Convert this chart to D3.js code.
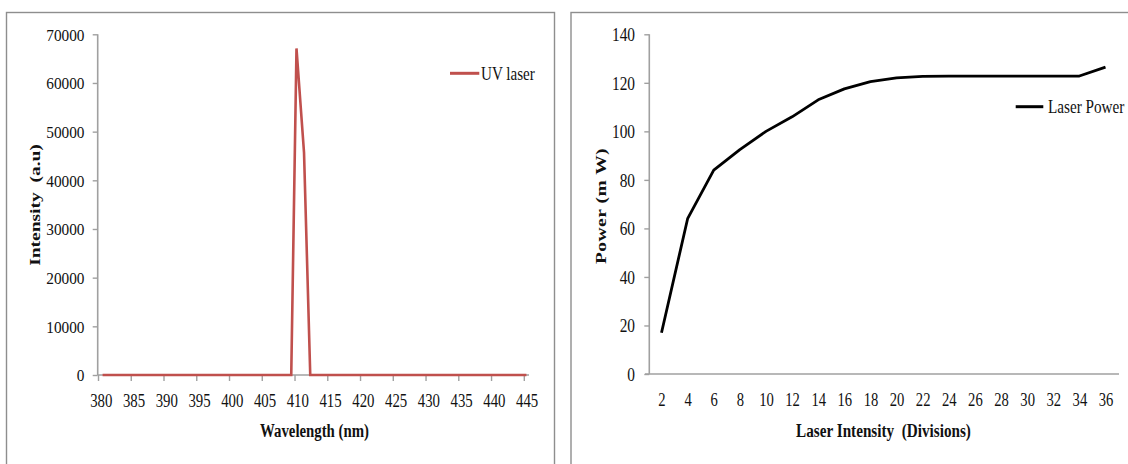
<!DOCTYPE html>
<html>
<head>
<meta charset="utf-8">
<script src="https://cdn.jsdelivr.net/npm/d3@7"></script>
<style>
  html, body { margin: 0; padding: 0; background: #fff; }
  svg { display: block; }
  text { font-family: "Liberation Serif", "Times New Roman", serif; fill: #111; }
</style>
</head>
<body>
<svg id="chart" width="1128" height="464"></svg>
<script>
// ---------- Data ----------
// Left chart: UV laser spectrum
const uvWavelength = [380.7, 409.5, 410.3, 411.45, 412.4, 445.4];
const uvIntensity  = [0, 0, 67100, 45700, 0, 0];
const wavelengthTicks = [380, 385, 390, 395, 400, 405, 410, 415, 420, 425, 430, 435, 440, 445];
const intensityTicks  = [0, 10000, 20000, 30000, 40000, 50000, 60000, 70000];

// Right chart: laser power vs laser intensity
const divisions = [2, 4, 6, 8, 10, 12, 14, 16, 18, 20, 22, 24, 26, 28, 30, 32, 34, 36];
const powerMW   = [17, 64, 84, 92.5, 100, 106, 113, 117.5, 120.5, 122, 122.7, 122.8, 122.8, 122.8, 122.8, 122.8, 122.8, 126.5];
const divisionTicks = divisions;
const powerTicks = [0, 20, 40, 60, 80, 100, 120, 140];

// ---------- Helpers ----------
const svg = d3.select("#chart");
const axisColor = "#a0a0a0";
const borderColor = "#8e8e8e";

function styleAxis(g) {
  g.select(".domain").attr("stroke", axisColor).attr("stroke-width", 1.6);
  g.selectAll(".tick line").attr("stroke", axisColor).attr("stroke-width", 1.4);
}

// ---------- Panel borders ----------
svg.append("rect").attr("x", 6.5).attr("y", 12.5).attr("width", 548).attr("height", 470)
  .attr("fill", "none").attr("stroke", borderColor).attr("stroke-width", 1.4);
svg.append("rect").attr("x", 571).attr("y", 12.5).attr("width", 570).attr("height", 470)
  .attr("fill", "none").attr("stroke", borderColor).attr("stroke-width", 1.4);

// ================= LEFT CHART =================
const xL = d3.scaleLinear().domain([380, 445]).range([98, 523.8]);
const yL = d3.scaleLinear().domain([0, 70000]).range([375, 34.3]);

// y axis
const gyL = svg.append("g").attr("transform", "translate(97.7,0)")
  .call(d3.axisLeft(yL).tickValues(intensityTicks).tickSize(5).tickFormat(d3.format("d")));
gyL.select(".domain").attr("d", `M0,${yL(70000)}V${yL(0)}`);
styleAxis(gyL);
gyL.selectAll(".tick text")
  .attr("x", -13.2 / 0.9).attr("dy", "0.34em")
  .attr("transform", "scale(0.9,1)")
  .style("font-size", "17px").style("font-family", "Liberation Serif");

// x axis
const gxL = svg.append("g").attr("transform", `translate(0,${yL(0)})`)
  .call(d3.axisBottom(xL).tickValues(wavelengthTicks).tickSizeInner(6).tickSizeOuter(0).tickFormat(d3.format("d")));
gxL.select(".domain").attr("d", `M97.7,0H529`);
styleAxis(gxL);
gxL.selectAll(".tick text")
  .attr("y", 0).attr("dy", 0)
  .attr("transform", "translate(2.8,32) scale(0.78,1)")
  .style("font-size", "19px").style("font-family", "Liberation Serif");

// line
const lineL = d3.line().x((d, i) => xL(uvWavelength[i])).y(d => yL(d));
svg.append("path").datum(uvIntensity)
  .attr("d", lineL).attr("fill", "none")
  .attr("stroke", "#c0504d").attr("stroke-width", 2.6).attr("stroke-linejoin", "miter");

// axis titles
svg.append("text").text("Intensity  (a.u)")
  .attr("transform", "translate(40,205) scale(0.76,1) rotate(-90)")
  .attr("text-anchor", "middle").style("font-weight", "bold").style("font-size", "19.5px")
  .style("white-space", "pre");
svg.append("text").text("Wavelength (nm)")
  .attr("transform", "translate(314.5,437) scale(0.78,1)")
  .attr("text-anchor", "middle").style("font-weight", "bold").style("font-size", "19px");

// legend
svg.append("line").attr("x1", 450).attr("x2", 479.3).attr("y1", 73.3).attr("y2", 73.3)
  .attr("stroke", "#c0504d").attr("stroke-width", 3);
svg.append("text").text("UV laser")
  .attr("transform", "translate(481,79.5) scale(0.84,1)")
  .style("font-size", "18px");

// ================= RIGHT CHART =================
const xR = d3.scaleLinear().domain([2, 36]).range([661.5, 1105.5]);
const yR = d3.scaleLinear().domain([0, 140]).range([374, 34.3]);

const gyR = svg.append("g").attr("transform", "translate(649.3,0)")
  .call(d3.axisLeft(yR).tickValues(powerTicks).tickSize(5).tickFormat(d3.format("d")));
gyR.select(".domain").attr("d", `M0,${yR(140)}V${yR(0)}`);
styleAxis(gyR);
gyR.selectAll(".tick text")
  .attr("x", -14.3 / 0.81).attr("dy", "0.34em")
  .attr("transform", "scale(0.81,1)")
  .style("font-size", "19px");

const gxR = svg.append("g").attr("transform", `translate(0,${yR(0)})`)
  .call(d3.axisBottom(xR).tickValues(divisionTicks).tickSize(0).tickFormat(d3.format("d")));
gxR.select(".domain").attr("d", `M645,0H1119`);
styleAxis(gxR);
gxR.selectAll(".tick text")
  .attr("y", 0).attr("dy", 0)
  .attr("transform", "translate(0,32) scale(0.77,1)")
  .style("font-size", "19px");

const lineR = d3.line().x((d, i) => xR(divisions[i])).y(d => yR(d));
svg.append("path").datum(powerMW)
  .attr("d", lineR).attr("fill", "none")
  .attr("stroke", "#000").attr("stroke-width", 2.8).attr("stroke-linejoin", "round");

svg.append("text").text("Power (m W)")
  .attr("transform", "translate(606,206) scale(0.76,1) rotate(-90)")
  .attr("text-anchor", "middle").style("font-weight", "bold").style("font-size", "19.5px")
  .style("letter-spacing", "0.5px");
svg.append("text").text("Laser Intensity  (Divisions)")
  .attr("transform", "translate(883.5,437) scale(0.8,1)")
  .attr("text-anchor", "middle").style("font-weight", "bold").style("font-size", "19px")
  .style("white-space", "pre");

svg.append("line").attr("x1", 1015.7).attr("x2", 1043.3).attr("y1", 106.7).attr("y2", 106.7)
  .attr("stroke", "#000").attr("stroke-width", 3);
svg.append("text").text("Laser Power")
  .attr("transform", "translate(1048,113) scale(0.8,1)")
  .style("font-size", "19px");
</script>
</body>
</html>
